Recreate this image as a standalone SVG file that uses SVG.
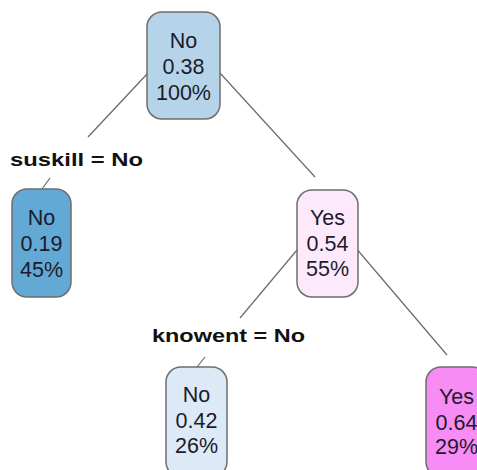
<svg xmlns="http://www.w3.org/2000/svg" width="477" height="470" viewBox="0 0 477 470">
<style>
.box{stroke:#6e6e6e;stroke-width:1.5}
.t{font-family:"Liberation Sans",Arial,sans-serif;font-size:21.5px;fill:#1b1b2b;text-anchor:middle}
.lbl{font-family:"Liberation Sans",Arial,sans-serif;font-size:19px;font-weight:bold;fill:#111}
.edge{stroke:#6a6a6a;stroke-width:1.2;fill:none}
</style>
<rect width="477" height="470" fill="#ffffff"/>
<g id="connectors">
<line class="edge" x1="148" y1="73" x2="88" y2="137"/>
<line class="edge" x1="50" y1="178" x2="42" y2="189"/>
<line class="edge" x1="220" y1="73" x2="315" y2="177"/>
<line class="edge" x1="297" y1="250" x2="240" y2="318"/>
<line class="edge" x1="205" y1="357" x2="197" y2="367"/>
<line class="edge" x1="355" y1="247" x2="447" y2="355"/>
</g>
<g id="label-suskill"><text class="lbl" x="10" y="166" textLength="133" lengthAdjust="spacingAndGlyphs">suskill = No</text></g>
<g id="label-knowent"><text class="lbl" x="152" y="342" textLength="153" lengthAdjust="spacingAndGlyphs">knowent = No</text></g>
<g id="node-root">
<rect class="box" x="147" y="12" width="73" height="107" rx="15" fill="#b5d4ea"/>
<text class="t" x="183.5" y="48">No</text>
<text class="t" x="183.5" y="74">0.38</text>
<text class="t" x="183.5" y="100">100%</text>
</g>
<g id="node-left">
<rect class="box" x="12" y="189" width="59" height="108" rx="15" fill="#63a9d6"/>
<text class="t" x="41.5" y="225">No</text>
<text class="t" x="41.5" y="251">0.19</text>
<text class="t" x="41.5" y="277">45%</text>
</g>
<g id="node-yes">
<rect class="box" x="297" y="190" width="61" height="107" rx="15" fill="#fde9fc"/>
<text class="t" x="327.5" y="225">Yes</text>
<text class="t" x="327.5" y="251">0.54</text>
<text class="t" x="327.5" y="276">55%</text>
</g>
<g id="node-no2">
<rect class="box" x="166" y="367" width="61" height="110" rx="15" fill="#dce9f6"/>
<text class="t" x="196.5" y="402">No</text>
<text class="t" x="196.5" y="428">0.42</text>
<text class="t" x="196.5" y="453">26%</text>
</g>
<g id="node-yes2">
<rect class="box" x="426" y="367" width="61" height="110" rx="15" fill="#f78cf5"/>
<text class="t" x="456.5" y="404">Yes</text>
<text class="t" x="456.5" y="430">0.64</text>
<text class="t" x="456.5" y="454">29%</text>
</g>
</svg>
